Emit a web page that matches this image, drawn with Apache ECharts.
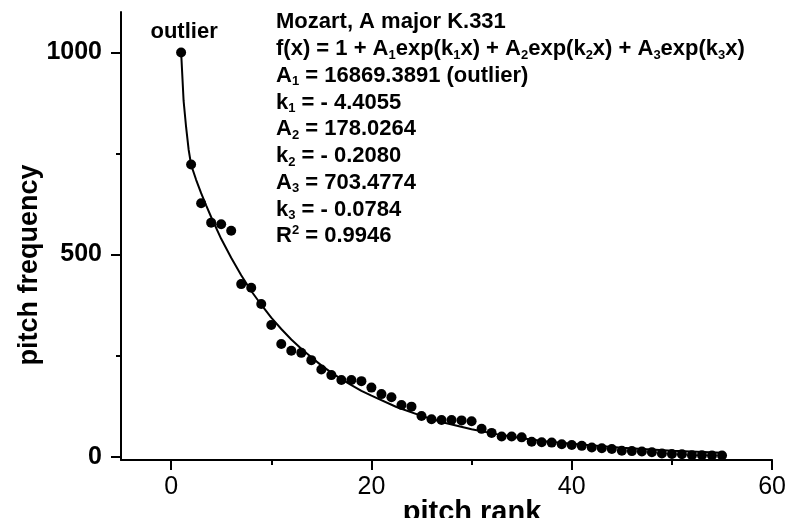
<!DOCTYPE html>
<html>
<head>
<meta charset="utf-8">
<script src="https://cdn.jsdelivr.net/npm/echarts@6/dist/echarts.min.js"></script>
<style>
  html, body { margin: 0; padding: 0; background: #fff; }
  #main { width: 789px; height: 518px; }
</style>
</head>
<body>
<div id="main"></div>
<script>
// pitch rank / frequency
var rank = [1, 2, 3, 4, 5, 6, 7, 8, 9, 10, 11, 12, 13, 14, 15, 16, 17, 18, 19, 20,
  21, 22, 23, 24, 25, 26, 27, 28, 29, 30, 31, 32, 33, 34, 35, 36, 37, 38, 39, 40,
  41, 42, 43, 44, 45, 46, 47, 48, 49, 50, 51, 52, 53, 54, 55];
var freq = [1000, 723, 627, 579, 575, 559, 427, 418, 378, 326, 279, 262, 257, 239, 216, 202, 190, 190, 187, 171,
  155, 147, 128, 124, 101, 93, 91, 91, 90, 88, 69, 59, 50, 50, 48, 37, 36, 35, 31, 29,
  27, 23, 21, 19, 15, 14, 13, 11, 8, 7, 6, 4, 4, 3, 3];

// fitted curve, sampled from the drawn line
var fitX = [1, 1.25, 1.5, 1.75, 2, 2.5, 3, 3.5, 4, 5, 6, 7, 8, 9, 10, 11, 12, 13, 14, 15, 16, 17, 18, 19, 20,
  22.5, 25, 27.5, 30, 32.5, 35, 37.5, 40, 45, 50, 55];
var fitY = [1002, 880, 815, 760, 722, 685, 652, 622, 593, 539, 492, 449, 410, 376, 344, 316, 290, 267, 246, 226, 208, 192, 177, 163, 151,
  123, 101, 83, 68, 56, 46, 38, 32, 22, 15, 10];

var xMajor = [0, 20, 40, 60];
var xMinor = [10, 30, 50];
var yMajor = [0, 500, 1000];
var yMinor = [250, 750];

var notes = [
  "Mozart, A major K.331",
  "f(x) = 1 + A{s|1}exp(k{s|1}x) + A{s|2}exp(k{s|2}x) + A{s|3}exp(k{s|3}x)",
  "A{s|1} = 16869.3891 (outlier)",
  "k{s|1} = - 4.4055",
  "A{s|2} = 178.0264",
  "k{s|2} = - 0.2080",
  "A{s|3} = 703.4774",
  "k{s|3} = - 0.0784",
  "R{p|2} = 0.9946"
];

var FONT = "'Liberation Sans', Arial, sans-serif";

var points = rank.map(function (r, i) {
  return [r, freq[i]];
});
points[0] = {
  value: points[0],
  label: {
    show: true,
    position: "top",
    distance: 4,
    offset: [3, 0],
    formatter: "outlier",
    color: "#000",
    fontFamily: FONT,
    fontWeight: "bold",
    fontSize: 22
  }
};
var curve = fitX.map(function (x, i) {
  return [x, fitY[i]];
});

var plain = function (v) { return String(v); };

// extra axes that only carry tick marks
var tickAxis = function (min, max, pos, values, len) {
  return {
    type: "value",
    min: min,
    max: max,
    position: pos,
    axisLine: { show: false, onZero: false },
    splitLine: { show: false },
    axisTick: { show: true, length: len, customValues: values, lineStyle: { color: "#000", width: 2 } },
    axisLabel: { show: false }
  };
};

var myChart = echarts.init(document.getElementById("main"));
var option = {
  animation: false,
  backgroundColor: "#fff",
  grid: { left: 121, right: 16, top: 12, bottom: 58 },
  xAxis: [
    {
      type: "value",
      min: -5,
      max: 60,
      axisLine: { show: true, onZero: false, lineStyle: { color: "#000", width: 2 } },
      splitLine: { show: false },
      axisTick: { show: false },
      axisLabel: {
        customValues: xMajor,
        formatter: plain,
        margin: 15,
        color: "#000",
        fontFamily: FONT,
        fontSize: 25
      }
    },
    tickAxis(-5, 60, "bottom", xMinor, 5),
    tickAxis(-5, 60, "bottom", xMajor, 10)
  ],
  yAxis: [
    {
      type: "value",
      min: -8,
      max: 1100,
      axisLine: { show: true, onZero: false, lineStyle: { color: "#000", width: 2 } },
      splitLine: { show: false },
      axisTick: { show: false },
      axisLabel: {
        customValues: yMajor,
        formatter: plain,
        margin: 19,
        color: "#000",
        fontFamily: FONT,
        fontWeight: "bold",
        fontSize: 25
      }
    },
    tickAxis(-8, 1100, "left", yMinor, 5),
    tickAxis(-8, 1100, "left", yMajor, 10)
  ],
  graphic: [
    {
      type: "text",
      x: 30,
      y: 265,
      rotation: Math.PI / 2,
      style: {
        text: "pitch frequency",
        fill: "#000",
        font: "bold 27px " + FONT,
        align: "center",
        verticalAlign: "middle"
      }
    },
    {
      type: "text",
      x: 472,
      y: 498,
      style: {
        text: "pitch rank",
        fill: "#000",
        font: "bold 29px " + FONT,
        align: "center",
        verticalAlign: "top"
      }
    },
    {
      type: "text",
      x: 276,
      y: 9,
      style: {
        text: notes.join("\n"),
        fill: "#000",
        fontFamily: FONT,
        fontWeight: "bold",
        fontSize: 22,
        lineHeight: 26.75,
        align: "left",
        verticalAlign: "top",
        rich: {
          s: { fontFamily: FONT, fontWeight: "bold", fontSize: 13, padding: [12, 0, 0, 0] },
          p: { fontFamily: FONT, fontWeight: "bold", fontSize: 13, padding: [0, 0, 12, 0] }
        }
      }
    }
  ],
  series: [
    {
      name: "fit",
      type: "line",
      data: curve,
      smooth: false,
      showSymbol: false,
      lineStyle: { color: "#000", width: 2 },
      z: 2
    },
    {
      name: "pitch",
      type: "scatter",
      data: points,
      symbol: "circle",
      symbolSize: 10,
      itemStyle: { color: "#000", opacity: 1 },
      z: 3
    }
  ]
};
myChart.setOption(option);
</script>
</body>
</html>
